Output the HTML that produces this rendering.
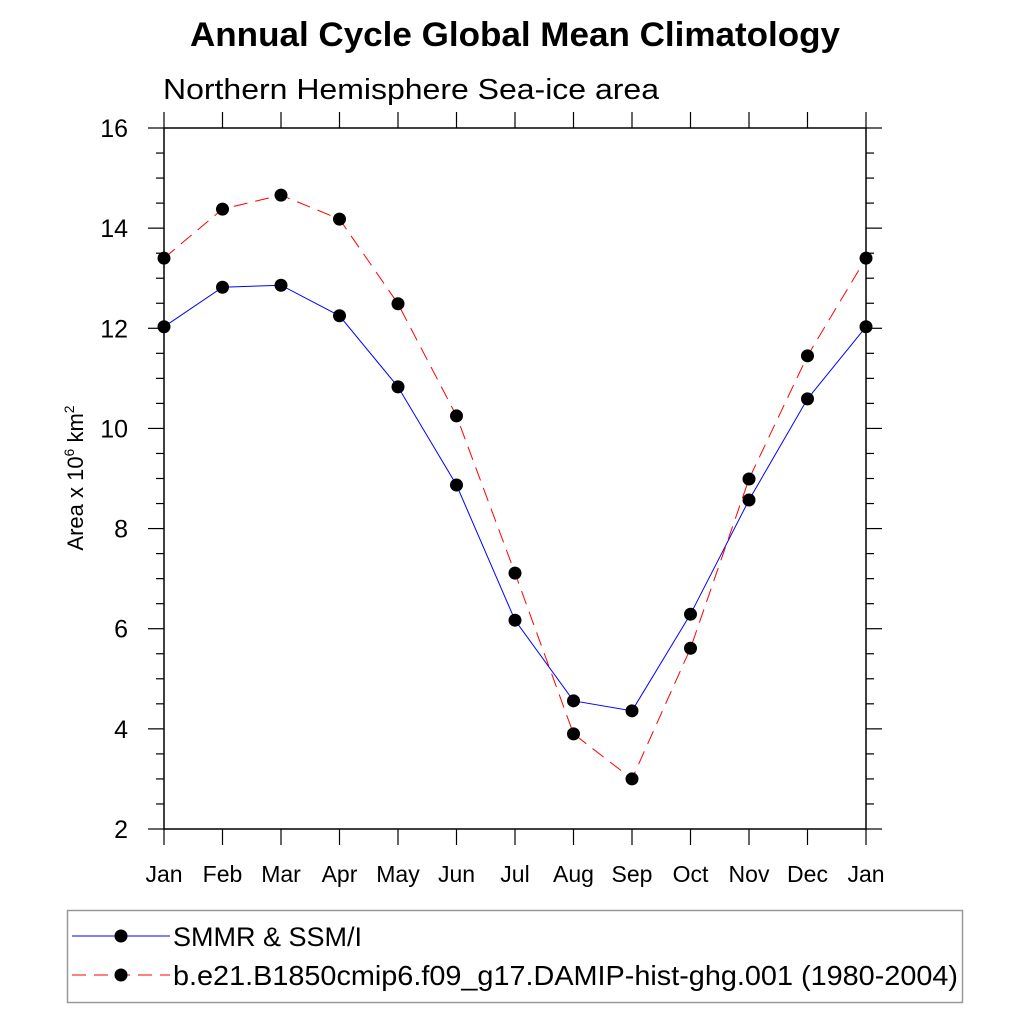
<!DOCTYPE html>
<html><head><meta charset="utf-8"><style>
body{margin:0;background:#fff}
svg text{font-family:"Liberation Sans",sans-serif}
</style></head><body>
<svg width="1024" height="1024" xmlns="http://www.w3.org/2000/svg">
<rect width="1024" height="1024" fill="#fff"/>
<text x="190" y="46" textLength="650" lengthAdjust="spacingAndGlyphs" font-size="34" font-weight="bold">Annual Cycle Global Mean Climatology</text>
<text x="163" y="99" textLength="496" lengthAdjust="spacingAndGlyphs" font-size="29">Northern Hemisphere Sea-ice area</text>
<g id="axes"></g>
<g id="series"></g>
<text transform="translate(83,478) rotate(-90)" text-anchor="middle" font-size="22">Area x 10<tspan dy="-9" font-size="14">6</tspan><tspan dy="9"> km</tspan><tspan dy="-9" font-size="14">2</tspan></text>
<rect x="67.5" y="910.5" width="895" height="92" fill="none" stroke="#999" stroke-width="1.5"/>
<g>
<line x1="72" y1="936" x2="170" y2="936" stroke="#00f" stroke-width="1"/>
<circle cx="121" cy="936" r="6.5" fill="#000"/>
<text x="173" y="946" font-size="27">SMMR &amp; SSM/I</text></g>
<g>
<line x1="72" y1="975" x2="170" y2="975" stroke="#f00" stroke-width="1" stroke-dasharray="14,8"/>
<circle cx="121" cy="975" r="6.5" fill="#000"/>
<text x="173" y="985" textLength="785" lengthAdjust="spacingAndGlyphs" font-size="28">b.e21.B1850cmip6.f09_g17.DAMIP-hist-ghg.001 (1980-2004)</text></g>
</svg>
<script>
const months=["Jan","Feb","Mar","Apr","May","Jun","Jul","Aug","Sep","Oct","Nov","Dec","Jan"];
const yTicks=[2,4,6,8,10,12,14,16];
const obsValues=[12.03,12.82,12.86,12.25,10.83,8.87,6.17,4.56,4.36,6.29,8.57,10.59,12.03];
const modelValues=[13.40,14.38,14.66,14.18,12.49,10.25,7.11,3.90,3.00,5.61,8.99,11.45,13.40];
const NS="http://www.w3.org/2000/svg";
const L=164,R=866,T=128,B=829,ymin=2,ymax=16;
function xs(i){return L+i*(R-L)/(months.length-1);}
function ys(v){return B-(v-ymin)*(B-T)/(ymax-ymin);}
function mk(tag,at,parent){const e=document.createElementNS(NS,tag);for(const k in at)e.setAttribute(k,at[k]);parent.appendChild(e);return e;}
const ax=document.getElementById('axes');
const frame=mk('rect',{x:L,y:T,width:R-L,height:B-T,fill:'none',stroke:'#000','stroke-width':1.5},ax);


months.forEach((m,i)=>{
  const x=xs(i);
  mk('line',{x1:x,y1:B,x2:x,y2:B+16,stroke:'#000','stroke-width':1.2},ax);
  mk('line',{x1:x,y1:T,x2:x,y2:T-16,stroke:'#000','stroke-width':1.2},ax);
  const t=mk('text',{x:x,y:B+53,'text-anchor':'middle','font-size':23},ax);
  t.textContent=m;
  
  
});
for(let v=ymin;v<=ymax+1e-9;v+=0.5){
  const y=ys(v);const major=Math.abs(v-Math.round(v/2)*2)<1e-9;
  const len=major?16:8;
  mk('line',{x1:L,y1:y,x2:L-len,y2:y,stroke:'#000','stroke-width':1.2},ax);
  mk('line',{x1:R,y1:y,x2:R+len,y2:y,stroke:'#000','stroke-width':1.2},ax);
}
yTicks.forEach(v=>{
  const t=mk('text',{x:128,y:ys(v)+9,'text-anchor':'end','font-size':25},ax);
  t.textContent=v;
  
  
});
const sg=document.getElementById('series');
function series(vals,color,dash,name){
  const g=mk('g',{},sg);
  
  
  const at={points:vals.map((v,i)=>xs(i)+','+ys(v)).join(' '),fill:'none',stroke:color,'stroke-width':1};
  if(dash)at['stroke-dasharray']=dash;
  const pl=mk('polyline',at,g);
  
  
  vals.forEach((v,i)=>{
    const c=mk('circle',{cx:xs(i),cy:ys(v),r:6.5,fill:'#000'},g);
    
    
  });
}
series(obsValues,'#00f',null,'smmr-series');
series(modelValues,'#f00','14,8','model-series');
</script>
</body></html>
